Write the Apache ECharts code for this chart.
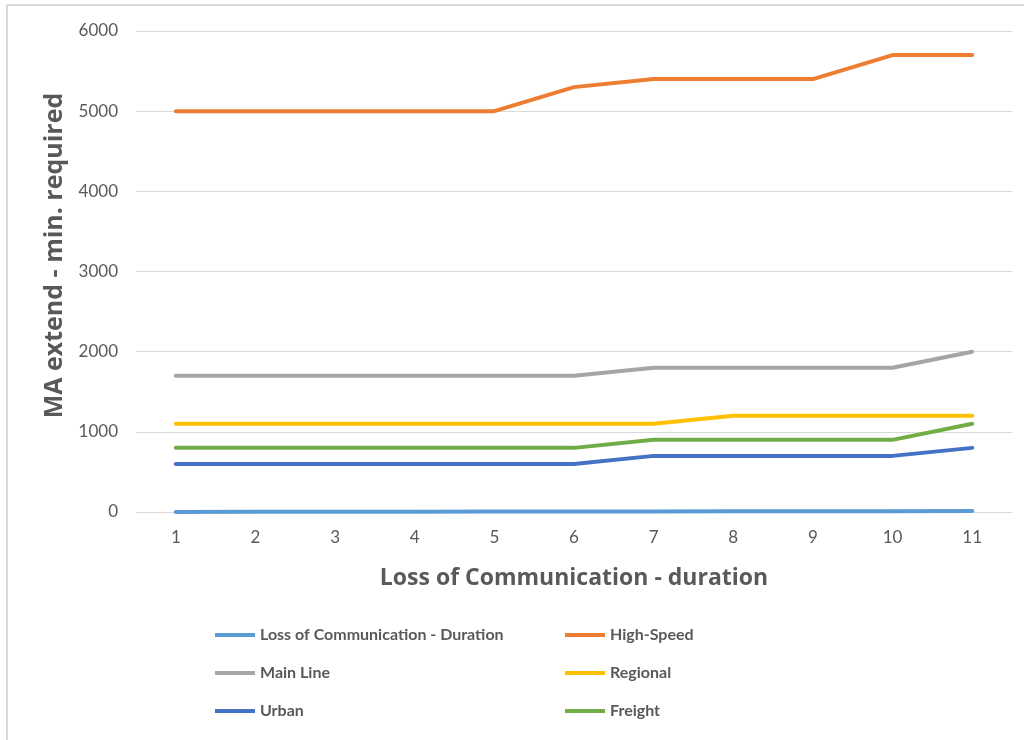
<!DOCTYPE html>
<html>
<head>
<meta charset="utf-8">
<script src="https://cdn.jsdelivr.net/npm/echarts@6/dist/echarts.min.js"></script>
<style>
  html, body { margin: 0; padding: 0; background: #fff; }
  #main { width: 1024px; height: 740px; }
</style>
</head>
<body>
<div id="main"></div>
<script>
var durations = ['1', '2', '3', '4', '5', '6', '7', '8', '9', '10', '11'];
var lossDuration = [1, 2, 3, 4, 5, 6, 7, 8, 9, 10, 11];
var highSpeed = [5000, 5000, 5000, 5000, 5000, 5300, 5400, 5400, 5400, 5700, 5700];
var mainLine = [1700, 1700, 1700, 1700, 1700, 1700, 1800, 1800, 1800, 1800, 2000];
var regional = [1100, 1100, 1100, 1100, 1100, 1100, 1100, 1200, 1200, 1200, 1200];
var urban = [600, 600, 600, 600, 600, 600, 700, 700, 700, 700, 800];
var freight = [800, 800, 800, 800, 800, 800, 900, 900, 900, 900, 1100];

var font = 'Lato, "Open Sans", sans-serif';
var titleFont = '"Open Sans", Lato, sans-serif';

function line(name, data, color) {
    return {
        name: name,
        type: 'line',
        data: data,
        symbol: 'none',
        color: color,
        lineStyle: { width: 4, color: color, cap: 'round', join: 'round' },
        emphasis: { disabled: true }
    };
}

var legendText = { color: '#595959', fontSize: 16, fontWeight: 'bold', fontFamily: font };

var myChart = echarts.init(document.getElementById('main'));
myChart.setOption({
    backgroundColor: '#fff',
    animation: false,
    graphic: [
        { type: 'line', shape: { x1: 7, y1: 5, x2: 1024, y2: 5 }, style: { stroke: '#d9d9d9', lineWidth: 2 } },
        { type: 'line', shape: { x1: 7, y1: 5, x2: 7, y2: 740 }, style: { stroke: '#d9d9d9', lineWidth: 2 } }
    ],
    grid: { left: 136, right: 12, top: 31, bottom: 228 },
    legend: [
        {
            left: 210, top: 622, orient: 'vertical', itemGap: 22,
            itemWidth: 40, itemHeight: 16,
            icon: 'path://M0,6 L40,6 L40,10 L0,10 Z',
            textStyle: legendText,
            data: ['Loss of Communication - Duration', 'Main Line', 'Urban']
        },
        {
            left: 560, top: 622, orient: 'vertical', itemGap: 22,
            itemWidth: 40, itemHeight: 16,
            icon: 'path://M0,6 L40,6 L40,10 L0,10 Z',
            textStyle: legendText,
            data: ['High-Speed', 'Regional', 'Freight']
        }
    ],
    xAxis: {
        type: 'category',
        data: durations,
        boundaryGap: true,
        name: 'Loss of Communication - duration',
        nameLocation: 'middle',
        nameGap: 55,
        nameTextStyle: { fontSize: 23, fontWeight: 'bold', color: '#595959', fontFamily: titleFont },
        axisLine: { show: false },
        axisTick: { show: false },
        axisLabel: { color: '#595959', fontSize: 17, margin: 17, fontFamily: font }
    },
    yAxis: {
        type: 'value',
        min: 0,
        max: 6000,
        interval: 1000,
        name: 'MA extend - min. required',
        nameLocation: 'middle',
        nameGap: 66,
        nameTextStyle: { fontSize: 25, fontWeight: 'bold', color: '#595959', fontFamily: titleFont, padding: [0, 0, 0, 32] },
        axisLine: { show: false },
        axisTick: { show: false },
        axisLabel: {
            color: '#595959', fontSize: 17, margin: 18, fontFamily: font,
            formatter: function (v) { return String(v); }
        },
        splitLine: { lineStyle: { color: '#d9d9d9', width: 1 } }
    },
    series: [
        line('Loss of Communication - Duration', lossDuration, '#5B9BD5'),
        line('High-Speed', highSpeed, '#ED7D31'),
        line('Main Line', mainLine, '#A5A5A5'),
        line('Regional', regional, '#FFC000'),
        line('Urban', urban, '#4472C4'),
        line('Freight', freight, '#70AD47')
    ]
});
</script>
</body>
</html>
